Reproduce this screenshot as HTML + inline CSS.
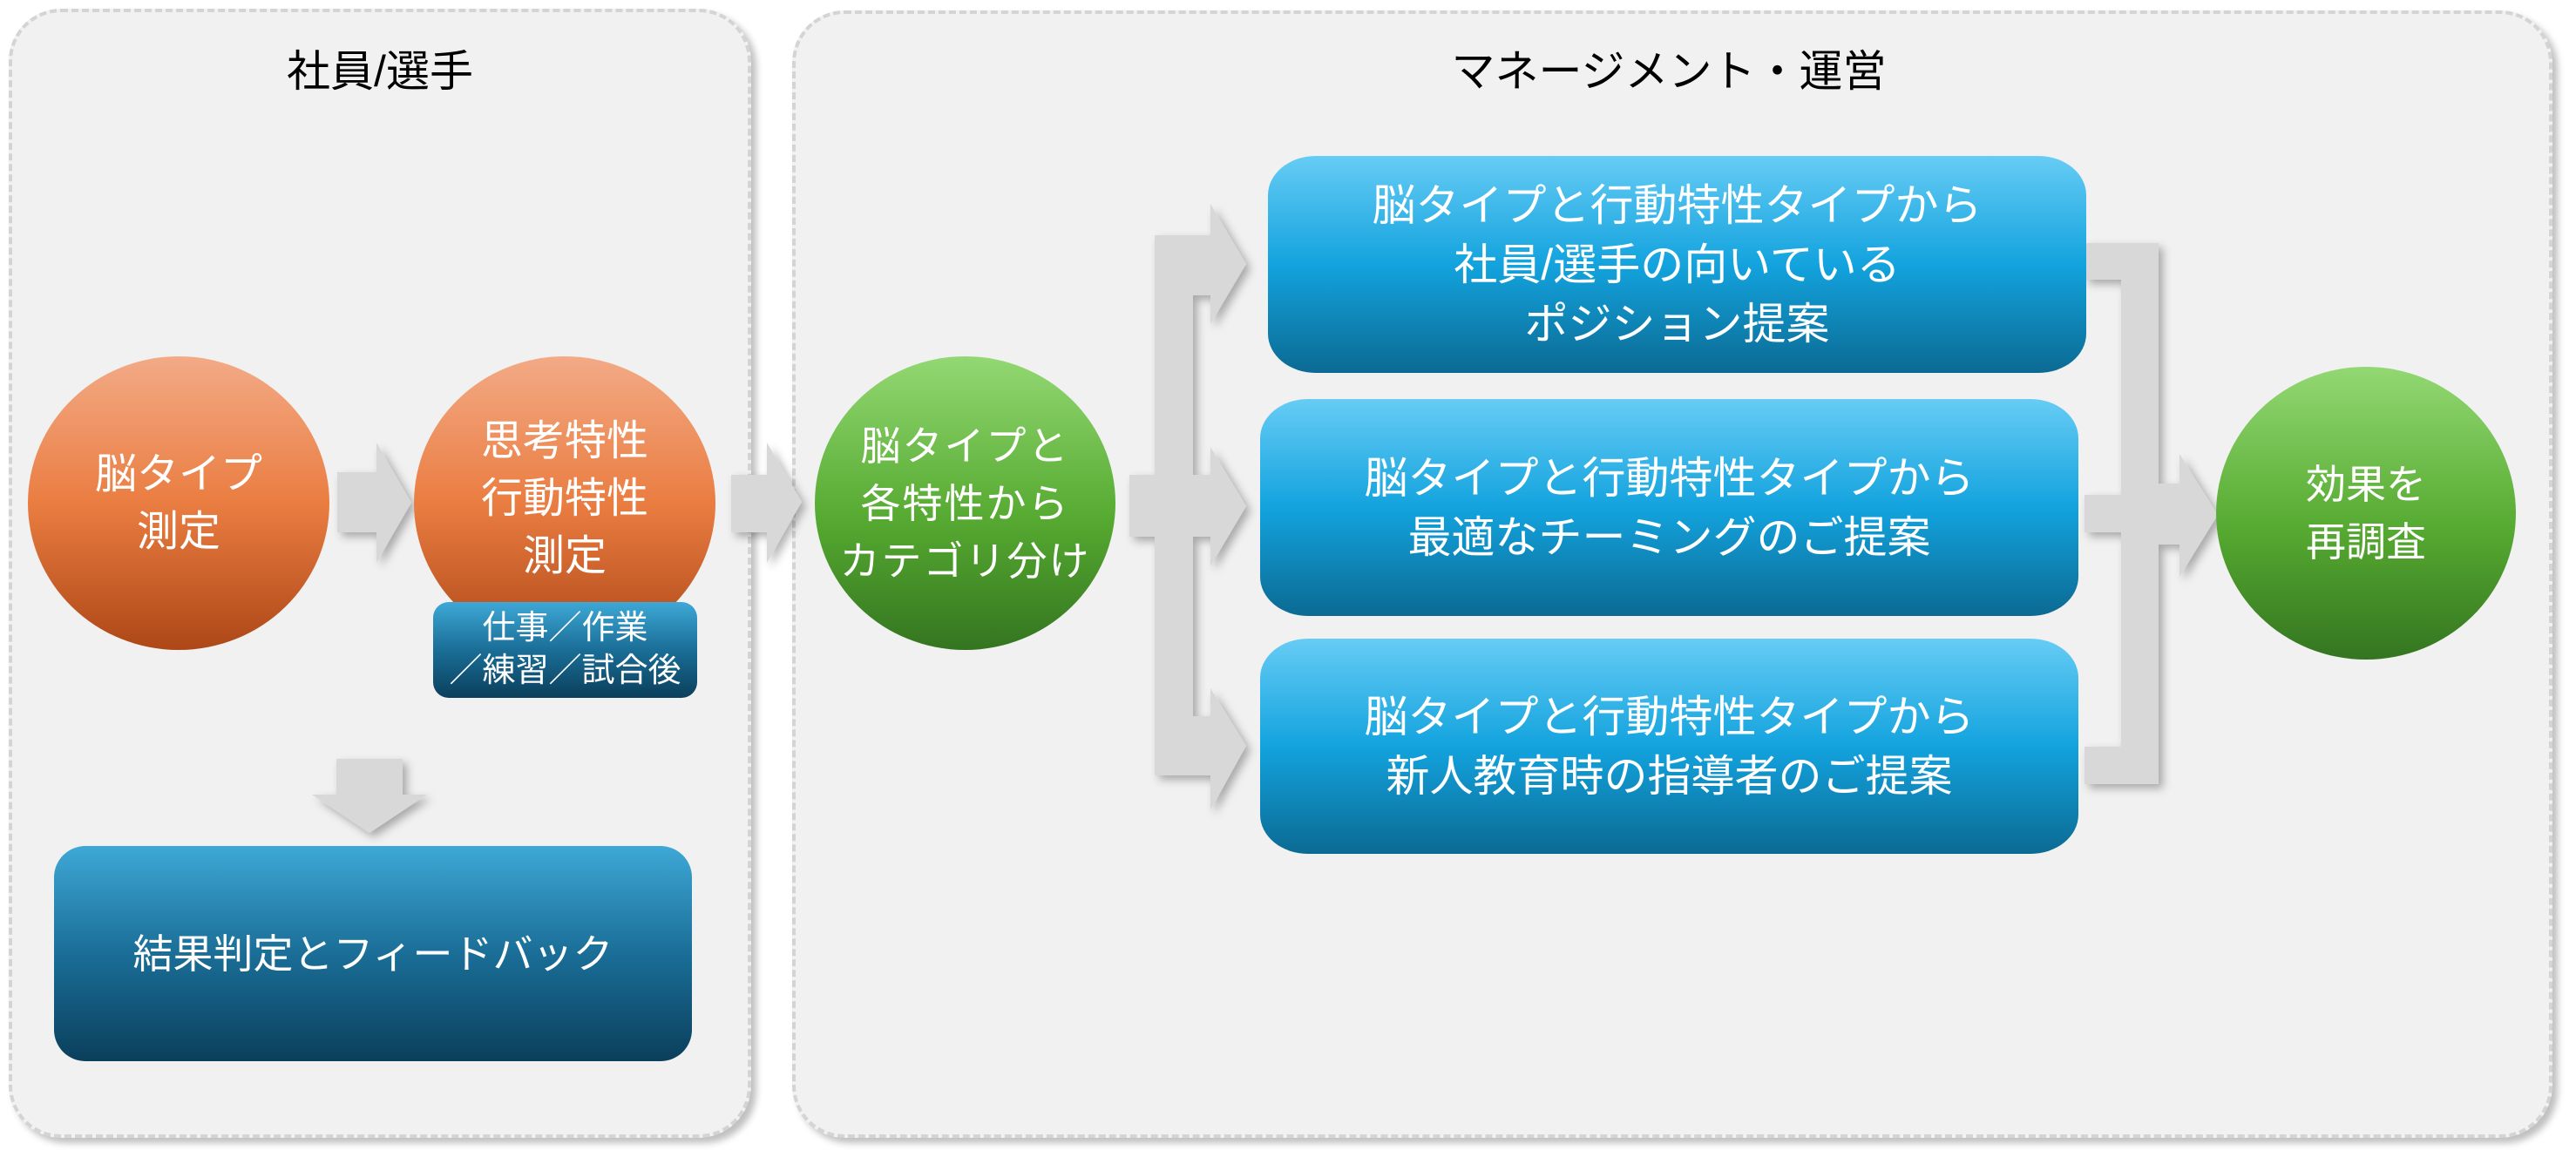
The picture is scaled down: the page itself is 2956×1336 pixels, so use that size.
<!DOCTYPE html>
<html><head><meta charset="utf-8"><style>
html,body{margin:0;padding:0;background:#fff;}
body{width:2956px;height:1336px;position:relative;overflow:hidden;font-family:"Liberation Sans","Noto Sans CJK JP",sans-serif;}
.panel{position:absolute;background:#f1f1f1;border:4px dashed #d4d4d4;border-radius:60px;box-shadow:6px 6px 8px rgba(0,0,0,0.25);box-sizing:border-box;}
.title{position:absolute;font-size:50px;color:#000;text-align:center;line-height:1;}
.circ{position:absolute;border-radius:50%;color:#fff;display:flex;align-items:center;justify-content:center;text-align:center;font-size:48px;line-height:66px;}
.orange{background:linear-gradient(#f3aa86,#ea7d41 50%,#ad4717);}
.green{background:linear-gradient(#93d873,#56aa31 55%,#347520);}
.box{position:absolute;color:#fff;display:flex;align-items:center;justify-content:center;text-align:center;font-size:50px;line-height:68px;border-radius:55px/45px;background:linear-gradient(#66ccf5,#13a3de 50%,#0b6a93);}
.dark{background:linear-gradient(#3ea8d6,#1a6e97 50%,#0b3f5c);}
svg{position:absolute;left:0;top:0;}
</style></head><body>
<div class="panel" style="left:10px;top:10px;width:852px;height:1296px;"></div>
<div class="panel" style="left:909px;top:12px;width:2020px;height:1294px;"></div>
<div class="title" style="left:10px;width:852px;top:57px;">社員/選手</div>
<div class="title" style="left:1500px;width:830px;top:57px;">マネージメント・運営</div>

<svg width="2956" height="1336">
<defs><filter id="sh" x="-20%" y="-20%" width="150%" height="150%"><feDropShadow dx="5" dy="5" stdDeviation="5" flood-color="#000" flood-opacity="0.3"/></filter></defs>
<g fill="#d8d8d8" filter="url(#sh)">
<polygon points="387,542 432,542 432,508 472,577 432,646 432,611 387,611"/>
<polygon points="386,871 462,871 462,912 490,912 424,956 358,912 386,912"/>
<polygon points="839,545 880,545 880,508 920,576 880,646 880,611 839,611"/>
<polygon points="1296,545 1325,545 1325,270 1389,270 1389,234 1430,303 1389,372 1389,339 1369,339 1369,545 1389,545 1389,513 1430,581 1389,650 1389,616 1369,616 1369,822 1389,822 1389,790 1430,856 1389,930 1389,890 1325,890 1325,616 1296,616"/>
<polygon points="2392,279 2477,279 2477,555 2501,555 2501,521 2545,591 2501,662 2501,625 2477,625 2477,900 2392,900 2392,857 2434,857 2434,611 2392,611 2392,568 2434,568 2434,321 2392,321"/>
</g>
</svg>

<div class="circ orange" style="left:32px;top:409px;width:346px;height:337px;">脳タイプ<br>測定</div>
<div class="circ orange" style="left:475px;top:409px;width:346px;height:337px;"><div style="margin-top:-10px">思考特性<br>行動特性<br>測定</div></div>
<div class="box dark" style="left:497px;top:691px;width:303px;height:110px;font-size:38px;line-height:49px;border-radius:18px;">仕事／作業<br>／練習／試合後</div>
<div class="box dark" style="left:62px;top:971px;width:732px;height:247px;border-radius:36px;font-size:46px;">結果判定とフィードバック</div>

<div class="circ green" style="left:935px;top:409px;width:345px;height:337px;font-size:46px;letter-spacing:2px;">脳タイプと<br>各特性から<br>カテゴリ分け</div>

<div class="box" style="left:1455px;top:179px;width:939px;height:249px;">脳タイプと行動特性タイプから<br>社員/選手の向いている<br>ポジション提案</div>
<div class="box" style="left:1446px;top:458px;width:939px;height:249px;">脳タイプと行動特性タイプから<br>最適なチーミングのご提案</div>
<div class="box" style="left:1446px;top:733px;width:939px;height:247px;">脳タイプと行動特性タイプから<br>新人教育時の指導者のご提案</div>

<div class="circ green" style="left:2543px;top:421px;width:344px;height:336px;font-size:46px;">効果を<br>再調査</div>
</body></html>
